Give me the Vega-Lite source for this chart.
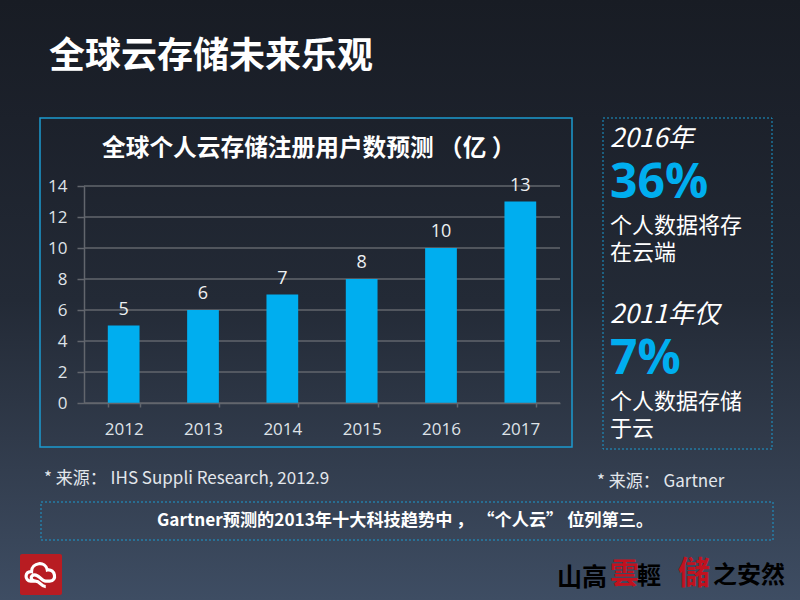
{
"$schema":"https://vega.github.io/schema/vega-lite/v6.json",
"width":476,"height":217,
"autosize":"none",
"padding":{"left":84,"top":186,"right":240,"bottom":197},
"background":"#1f2530",
"view":{"stroke":null},
"config":{"font":"Noto Sans CJK SC","text":{"font":"Noto Sans CJK SC","color":"#ffffff","align":"left","baseline":"middle"}},
"layer":[
{"data":{"values":[{"part":"backdrop"}]},"mark":{"type":"rect","x":-84,"x2":716,"y":-186,"y2":414,"color":{"gradient":"linear","x1":0,"y1":0,"x2":0,"y2":1,"stops":[{"offset":0,"color":"#181c24"},{"offset":0.2,"color":"#1c212b"},{"offset":0.5,"color":"#232a36"},{"offset":0.73,"color":"#303a4a"},{"offset":1,"color":"#3e4d63"}]}},"encoding":{}},
{"data":{"values":[{"part":"chart frame"}]},"mark":{"type":"rect","x":-44,"x2":488,"y":-68,"y2":261,"fillOpacity":0,"stroke":"#1b9ad0","strokeWidth":1.5},"encoding":{}},
{"data":{"values":[{"part":"side frame"}]},"mark":{"type":"rect","x":519,"x2":688,"y":-68,"y2":263,"fillOpacity":0,"stroke":"#1b9ad0","strokeWidth":1,"strokeDash":[2,2]},"encoding":{}},
{"data":{"values":[{"part":"note frame"}]},"mark":{"type":"rect","x":-43,"x2":689,"y":316,"y2":354,"fillOpacity":0,"stroke":"#1b9ad0","strokeWidth":1,"strokeDash":[2,2]},"encoding":{}},
{"data":{"values":[{"part":"footer rule"}]},"mark":{"type":"rule","x":-4,"x2":452,"y":384,"stroke":"#14618f","strokeWidth":1},"encoding":{}},
{"data":{"values":[{"part":"logo"}]},"mark":{"type":"rect","x":-64,"x2":-22,"y":368,"y2":409,"color":"#b81c22","cornerRadius":2},"encoding":{}},
{"data":{"values":[{"part":"logo cloud"}]},"mark":{"type":"point","x":-43,"y":388,"filled":false,"opacity":1,"stroke":"#ffffff","strokeWidth":3.2,"size":1000,"shape":"M-0.35,0.45 L-0.65,0.45 C-1.05,0.45 -1.05,-0.2 -0.6,-0.15 C-0.6,-0.75 0.3,-0.85 0.4,-0.25 C0.9,-0.35 1.05,0.45 0.55,0.45 L0.3,0.45 C0,0.45 -0.1,0.05 -0.4,0.05 C-0.7,0.05 -0.7,0.45 -0.35,0.45 C-0.05,0.45 0,0.8 0.3,0.8"},"encoding":{}},
{"data":{"values":[{"gridline":0},{"gridline":2},{"gridline":4},{"gridline":6},{"gridline":8},{"gridline":10},{"gridline":12},{"gridline":14}]},"mark":{"type":"rule","stroke":"#62666d","strokeWidth":1.5},"encoding":{"y":{"field":"gridline","type":"quantitative","scale":{"domain":[0,14]},"axis":{"title":null,"zindex":1,"values":[0,2,4,6,8,10,12,14],"labelColor":"#dfe3e8","labelFontSize":17,"labelFont":"Open Sans","labelPadding":10,"grid":false,"domainColor":"#62666d","domainWidth":1.5,"tickColor":"#62666d","tickSize":7,"tickWidth":1.5}}}},
{"data":{"values":[
{"year":"2012","users":5},{"year":"2013","users":6},{"year":"2014","users":7},{"year":"2015","users":8},{"year":"2016","users":10},{"year":"2017","users":13}]},
"encoding":{
"x":{"field":"year","type":"ordinal","scale":{"paddingInner":0.6,"paddingOuter":0.3},"axis":{"title":null,"zindex":1,"labelAngle":0,"labelColor":"#dfe3e8","labelFontSize":17,"labelFont":"Open Sans","ticks":true,"tickBand":"extent","tickSize":4,"tickColor":"#62666d","tickWidth":1.5,"domain":true,"domainColor":"#62666d","domainWidth":1.5,"labelPadding":14}},
"y":{"field":"users","type":"quantitative","scale":{"domain":[0,14]},"axis":{"title":null,"zindex":1,"values":[0,2,4,6,8,10,12,14],"labelColor":"#dfe3e8","labelFontSize":17,"labelFont":"Open Sans","labelPadding":10,"grid":false,"domainColor":"#62666d","domainWidth":1.5,"tickColor":"#62666d","tickSize":7,"tickWidth":1.5}}
},
"layer":[
{"mark":{"type":"bar","color":"#00aeef"}},
{"mark":{"type":"text","align":"center","baseline":"bottom","dy":-7,"fontSize":18,"font":"Open Sans","color":"#eef0f2"},"encoding":{"text":{"field":"users","type":"quantitative"}}}
]},
{"data":{"values":[{"t":"全球云存储未来乐观"}]},"mark":{"type":"text","x":-35,"y":-129,"fontSize":36,"fontWeight":"bold"},"encoding":{"text":{"field":"t"}}},
{"data":{"values":[{"t":"全球个人云存储注册用户数预测 （亿 ）"}]},"mark":{"type":"text","x":18,"y":-37,"fontSize":23.7,"fontWeight":"bold"},"encoding":{"text":{"field":"t"}}},
{"data":{"values":[{"t":"2016年"}]},"mark":{"type":"text","x":526,"y":-47,"fontSize":26,"fontStyle":"italic"},"encoding":{"text":{"field":"t"}}},
{"data":{"values":[{"t":"36%"}]},"mark":{"type":"text","x":526,"y":-2,"fontSize":48,"fontWeight":"bold","font":"Open Sans","color":"#00aeef"},"encoding":{"text":{"field":"t"}}},
{"data":{"values":[{"t":"个人数据将存"}]},"mark":{"type":"text","x":526,"y":40,"fontSize":22},"encoding":{"text":{"field":"t"}}},
{"data":{"values":[{"t":"在云端"}]},"mark":{"type":"text","x":526,"y":67,"fontSize":22},"encoding":{"text":{"field":"t"}}},
{"data":{"values":[{"t":"2011年仅"}]},"mark":{"type":"text","x":526,"y":129,"fontSize":26,"fontStyle":"italic"},"encoding":{"text":{"field":"t"}}},
{"data":{"values":[{"t":"7%"}]},"mark":{"type":"text","x":526,"y":174,"fontSize":48,"fontWeight":"bold","font":"Open Sans","color":"#00aeef"},"encoding":{"text":{"field":"t"}}},
{"data":{"values":[{"t":"个人数据存储"}]},"mark":{"type":"text","x":526,"y":216,"fontSize":22},"encoding":{"text":{"field":"t"}}},
{"data":{"values":[{"t":"于云"}]},"mark":{"type":"text","x":526,"y":243,"fontSize":22},"encoding":{"text":{"field":"t"}}},
{"data":{"values":[{"t":"* 来源： IHS Suppli Research, 2012.9"}]},"mark":{"type":"text","x":-40,"y":293,"fontSize":17,"color":"#e3e7ec"},"encoding":{"text":{"field":"t"}}},
{"data":{"values":[{"t":"* 来源： Gartner"}]},"mark":{"type":"text","x":513,"y":296,"fontSize":17,"color":"#e3e7ec"},"encoding":{"text":{"field":"t"}}},
{"data":{"values":[{"t":"Gartner预测的2013年十大科技趋势中 ， “个人云” 位列第三。"}]},"mark":{"type":"text","x":73,"y":335,"fontSize":17.2,"fontWeight":"bold"},"encoding":{"text":{"field":"t"}}},
{"data":{"values":[{"t":"山高"}]},"mark":{"type":"text","x":473,"y":392,"fontSize":25,"fontWeight":"bold","color":"#000000"},"encoding":{"text":{"field":"t"}}},
{"data":{"values":[{"t":"雲"}]},"mark":{"type":"text","x":526,"y":389,"fontSize":29,"fontWeight":"bold","color":"#c1121f"},"encoding":{"text":{"field":"t"}}},
{"data":{"values":[{"t":"輕"}]},"mark":{"type":"text","x":553,"y":391,"fontSize":24,"fontWeight":"bold","color":"#000000"},"encoding":{"text":{"field":"t"}}},
{"data":{"values":[{"t":"儲"}]},"mark":{"type":"text","x":594,"y":388,"fontSize":32,"fontWeight":"bold","color":"#c1121f"},"encoding":{"text":{"field":"t"}}},
{"data":{"values":[{"t":"之安然"}]},"mark":{"type":"text","x":629,"y":390,"fontSize":24,"fontWeight":"bold","color":"#000000"},"encoding":{"text":{"field":"t"}}}
]
}
